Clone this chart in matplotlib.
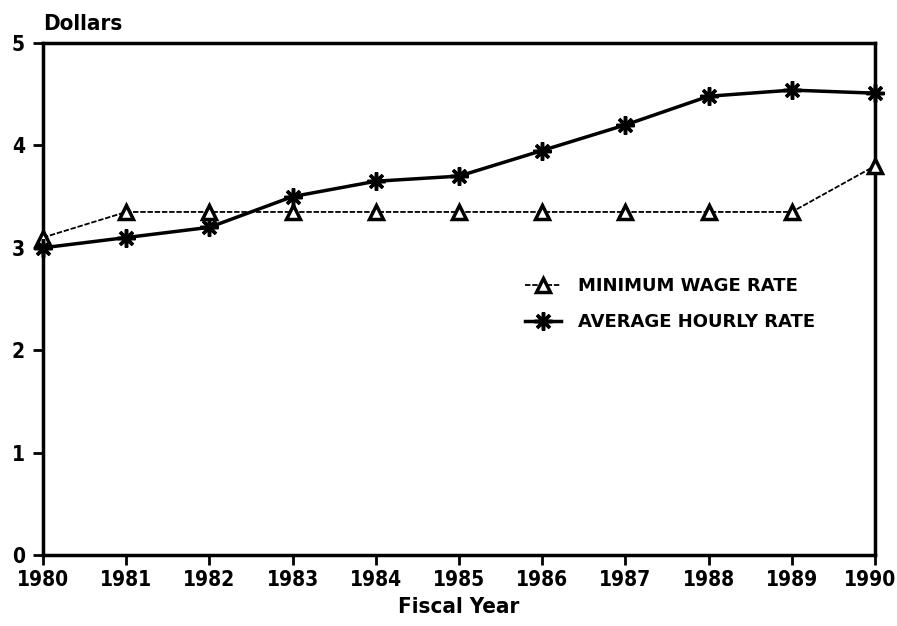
import matplotlib
matplotlib.use("Agg")
import matplotlib.pyplot as plt
import matplotlib.transforms as mtransforms

years = [1980, 1981, 1982, 1983, 1984, 1985, 1986, 1987, 1988, 1989, 1990]
min_wage = [3.10, 3.35, 3.35, 3.35, 3.35, 3.35, 3.35, 3.35, 3.35, 3.35, 3.80]
avg_hourly = [3.00, 3.10, 3.20, 3.50, 3.65, 3.70, 3.95, 4.20, 4.48, 4.54, 4.51]
y_ticks = [0, 1, 2, 3, 4, 5]

plt.rcParams['font.family'] = ['DejaVu Sans']
plt.rcParams['font.stretch'] = 'condensed'

fig = plt.figure(figsize=(8.97, 6.26), dpi=100)
ax = fig.add_axes([43/897, 1 - 555/626, (875-43)/897, (555-43)/626])

ax.plot(years, min_wage, color='black', linewidth=1.3, linestyle=(0, (3, 1)),
        marker='^', markersize=10, markerfacecolor='white', markeredgewidth=2.5,
        label='MINIMUM WAGE RATE', clip_on=False, zorder=3)
ax.plot(years, avg_hourly, color='black', linewidth=2.5,
        marker=(8, 2, 0), markersize=13, markeredgewidth=2.5,
        label='AVERAGE HOURLY RATE', clip_on=False, zorder=4)

ax.set_xlim(1980, 1990)
ax.set_ylim(0, 5)
ax.set_xticks(years)
ax.set_yticks(y_ticks)
ax.tick_params(axis='both', direction='out', length=7, width=2, labelsize=15)
for lab in ax.get_xticklabels() + ax.get_yticklabels():
    lab.set_fontweight('bold')
ax.tick_params(axis='x', pad=4)
ax.tick_params(axis='y', pad=6)

# nudge the last year label so it stays inside the picture
last = ax.get_xticklabels()[-1]
last.set_transform(last.get_transform() + mtransforms.ScaledTranslation(-5/100, 0, fig.dpi_scale_trans))

for side in ['left', 'bottom', 'top', 'right']:
    ax.spines[side].set_linewidth(2.5)

ax.set_xlabel('Fiscal Year', fontsize=16, fontweight='bold', labelpad=5)
ax.text(0.0, 1.018, 'Dollars', transform=ax.transAxes, fontsize=16,
        fontweight='bold', ha='left', va='bottom')

leg = ax.legend(loc='upper left', bbox_to_anchor=(0.56, 0.575), frameon=False,
                prop={'size': 13, 'stretch': 'normal', 'weight': 'semibold'},
                handlelength=2.0, labelspacing=1.0, handletextpad=0.9)

fig.savefig('out.png', dpi=100)
